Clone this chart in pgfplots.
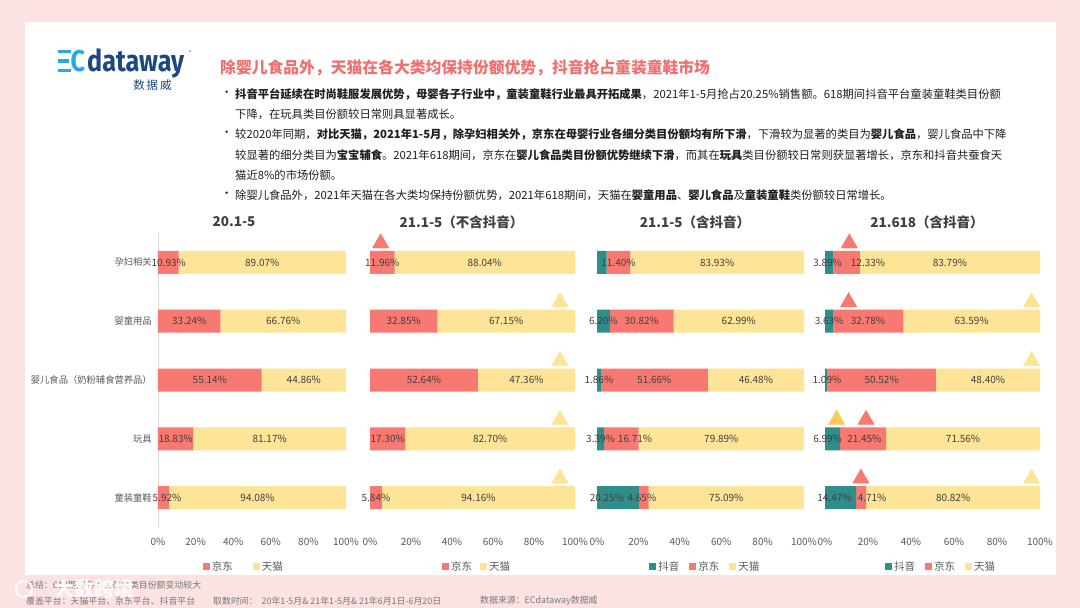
\documentclass[border=0pt]{standalone}
\usepackage{fontspec}
\setmainfont{Noto Sans CJK SC}
\newfontfamily\logofont{Fira Sans}
\usepackage{pgfplots}
\pgfplotsset{compat=1.18}

\definecolor{bgpink}{RGB}{253,226,227}
\definecolor{jd}{RGB}{248,121,114}
\definecolor{tm}{RGB}{254,228,150}
\definecolor{tmdark}{RGB}{250,200,92}
\definecolor{dy}{RGB}{47,142,137}
\definecolor{titlered}{RGB}{240,112,112}
\definecolor{txt}{RGB}{30,30,30}
\definecolor{lab}{RGB}{64,64,64}
\definecolor{gr}{RGB}{89,89,89}
\definecolor{foot}{RGB}{120,120,120}
\definecolor{ltblue}{RGB}{38,170,226}
\definecolor{navy}{RGB}{28,72,130}
\newcommand{\fs}[1]{\fontsize{#1}{#1}\selectfont}

\pgfplotsset{
  panel/.style={scale only axis, width=#1, height=294pt, xmin=0, xmax=100,
    ymin=-0.5, ymax=4.5, y dir=reverse, clip=false, anchor=south west},
  barpanel/.style={xbar stacked, bar width=23pt,
    axis x line*=bottom, x axis line style={draw=none},
    xtick={0,20,40,60,80,100}, xticklabel={\pgfmathprintnumber{\tick}\%},
    major tick length=0pt,
    /pgf/number format/assume math mode=true,
    xticklabel style={anchor=center, yshift=-15pt, font=\fs{10}, text=gr},
    legend style={draw=none, fill=none, legend columns=-1, font=\fs{10.5}, text=gr, anchor=center},
    legend image code/.code={\fill[##1, draw=none] (0pt,-3.5pt) rectangle (7pt,3.5pt);},
  },
  lab/.style={draw=none, mark=none, nodes near coords={\pgfplotspointmeta\%},
    point meta=explicit symbolic, nodes near coords align={center},
    every node near coord/.append style={font=\fs{10}, text=lab, inner sep=0pt}},
  tri/.style={only marks, mark=triangle*, mark size=9.5pt, color=#1,
    mark options={draw=none, fill=#1}},
}

\begin{document}
\begin{tikzpicture}[x=1pt,y=1pt]
\path[use as bounding box] (0,0) rectangle (1080,608);
\fill[bgpink] (0,0) rectangle (1080,608);
\fill[white] (24.5,33) rectangle (1056,585.5);

% logo
\fill[ltblue] (58,536) rectangle (70.6,539.4);
\fill[ltblue] (58,545.3) rectangle (68.5,548.7);
\fill[ltblue] (58,555) rectangle (70.6,558.4);
\node[anchor=base west, inner sep=0pt, text depth=0pt, text=ltblue, font=\logofont\bfseries\fs{30}, xscale=0.84, transform shape] at (70.5,536) {C};
\node[anchor=base west, inner sep=0pt, text depth=0pt, text=navy, font=\logofont\bfseries\fs{30}, xscale=0.84, transform shape] at (87,536) {dataway};
\node[anchor=center, inner sep=0pt, text=navy, font=\fs{11.5}] at (152.5,523) {数\,据\,威};
\node[anchor=center, inner sep=0pt, text=gr, font=\fs{5}] at (190,555) {®};

% title
\node[anchor=west, inner sep=0pt, text=titlered, font=\bfseries\fs{15.8}] at (220,540) {除婴儿食品外，天猫在各大类均保持份额优势，抖音抢占童装童鞋市场};

% bullets
\begin{scope}[every node/.style={anchor=west, inner sep=0pt, text=txt, font=\fs{11.3}}]
\node at (221,514) {•};
\node at (221,474) {•};
\node at (221,413) {•};
\node at (235,514) {{\bfseries 抖音平台延续在时尚鞋服发展优势，母婴各子行业中，童装童鞋行业最具开拓成果}，2021年1-5月抢占20.25\%销售额。618期间抖音平台童装童鞋类目份额};
\node at (235,494) {下降，在玩具类目份额较日常则具显著成长。};
\node at (235,474) {较2020年同期，{\bfseries 对比天猫，2021年1-5月，除孕妇相关外，京东在母婴行业各细分类目份额均有所下滑}，下滑较为显著的类目为{\bfseries 婴儿食品}，婴儿食品中下降};
\node at (235,453) {较显著的细分类目为{\bfseries 宝宝辅食}。2021年618期间，京东在{\bfseries 婴儿食品类目份额优势继续下滑}，而其在{\bfseries 玩具}类目份额较日常则获显著增长，京东和抖音共蚕食天};
\node at (235,433) {猫近8\%的市场份额。};
\node at (235,413) {除婴儿食品外，2021年天猫在各大类均保持份额优势，2021年618期间，天猫在{\bfseries 婴童用品}、{\bfseries 婴儿食品}及{\bfseries 童装童鞋}类份额较日常增长。};
\end{scope}

% panel titles
\begin{scope}[every node/.style={anchor=center, inner sep=0pt, text=lab, font=\bfseries\fs{13.5}}]
\node at (234,386) {20.1-5};
\node at (461.5,386) {21.1-5（不含抖音）};
\node at (695,386) {21.1-5（含抖音）};
\node at (927,386) {21.618（含抖音）};
\end{scope}

% ---------- panel 1 ----------
\begin{axis}[panel=188pt, at={(158pt,81pt)}, barpanel,
  axis y line*=left, y axis line style={draw=black!15, -},
  ytick={0,1,2,3,4},
  yticklabels={孕妇相关,婴童用品,婴儿食品（奶粉辅食营养品）,玩具,童装童鞋},
  yticklabel style={anchor=east, inner sep=0pt, xshift=-6pt, font=\fs{9.3}, text=gr},
  legend style={at={(axis description cs:0.457,-0.134)}, /tikz/every even column/.append style={column sep=18pt}}]
\addplot[fill=jd, draw=none] coordinates {(10.93,0) (33.24,1) (55.14,2) (18.83,3) (5.92,4)};
\addplot[fill=tm, draw=none] coordinates {(89.07,0) (66.76,1) (44.86,2) (81.17,3) (94.08,4)};
\legend{京东,天猫}
\end{axis}
\begin{axis}[panel=188pt, at={(158pt,81pt)}, hide axis]
\addplot[lab] coordinates {(5.7,0)[10.93] (16.62,1)[33.24] (27.57,2)[55.14] (9.42,3)[18.83] (4.8,4)[5.92]};
\addplot[lab] coordinates {(55.47,0)[89.07] (66.62,1)[66.76] (77.57,2)[44.86] (59.42,3)[81.17] (52.96,4)[94.08]};
\end{axis}

% ---------- panel 2 ----------
\begin{axis}[panel=205pt, at={(370pt,81pt)}, barpanel, axis y line=none,
  legend style={at={(axis description cs:0.522,-0.134)}, /tikz/every even column/.append style={column sep=6pt}}]
\addplot[fill=jd, draw=none] coordinates {(11.96,0) (32.85,1) (52.64,2) (17.30,3) (5.84,4)};
\addplot[fill=tm, draw=none] coordinates {(88.04,0) (67.15,1) (47.36,2) (82.70,3) (94.16,4)};
\legend{京东,天猫}
\end{axis}
\begin{axis}[panel=205pt, at={(370pt,81pt)}, hide axis]
\addplot[lab] coordinates {(5.98,0)[11.96] (16.43,1)[32.85] (26.32,2)[52.64] (8.65,3)[17.30] (2.92,4)[5.84]};
\addplot[lab] coordinates {(55.98,0)[88.04] (66.43,1)[67.15] (76.32,2)[47.36] (58.65,3)[82.70] (52.92,4)[94.16]};
\addplot[tri=jd] coordinates {(5.2,-0.325)};
\addplot[tri=tm] coordinates {(92.7,0.675) (92.7,1.675) (92.7,2.675) (92.7,3.675)};
\end{axis}

% ---------- panel 3 ----------
\begin{axis}[panel=207pt, at={(597pt,81pt)}, barpanel, axis y line=none,
  legend style={at={(axis description cs:0.523,-0.134)}, /tikz/every even column/.append style={column sep=8pt}}]
\addplot[fill=dy, draw=none] coordinates {(4.67,0) (6.20,1) (1.86,2) (3.39,3) (20.25,4)};
\addplot[fill=jd, draw=none] coordinates {(11.40,0) (30.82,1) (51.66,2) (16.71,3) (4.65,4)};
\addplot[fill=tm, draw=none] coordinates {(83.93,0) (62.99,1) (46.48,2) (79.89,3) (75.09,4)};
\legend{抖音,京东,天猫}
\end{axis}
\begin{axis}[panel=207pt, at={(597pt,81pt)}, hide axis]
\addplot[lab] coordinates {(3.1,1)[6.20] (0.93,2)[1.86] (1.7,3)[3.39] (4.8,4)[20.25]};
\addplot[lab] coordinates {(10.37,0)[11.40] (21.61,1)[30.82] (27.69,2)[51.66] (18.4,3)[16.71] (21.7,4)[4.65]};
\addplot[lab] coordinates {(58.04,0)[83.93] (68.51,1)[62.99] (76.76,2)[46.48] (60.05,3)[79.89] (62.46,4)[75.09]};
\end{axis}

% ---------- panel 4 ----------
\begin{axis}[panel=215pt, at={(825pt,81pt)}, barpanel, axis y line=none,
  legend style={at={(axis description cs:0.54,-0.134)}, /tikz/every even column/.append style={column sep=8pt}}]
\addplot[fill=dy, draw=none] coordinates {(3.89,0) (3.63,1) (1.09,2) (6.99,3) (14.47,4)};
\addplot[fill=jd, draw=none] coordinates {(12.33,0) (32.78,1) (50.52,2) (21.45,3) (4.71,4)};
\addplot[fill=tm, draw=none] coordinates {(83.79,0) (63.59,1) (48.40,2) (71.56,3) (80.82,4)};
\legend{抖音,京东,天猫}
\end{axis}
\begin{axis}[panel=215pt, at={(825pt,81pt)}, hide axis]
\addplot[lab] coordinates {(1.2,0)[3.89] (1.9,1)[3.63] (0.9,2)[1.09] (1.2,3)[6.99] (4.4,4)[14.47]};
\addplot[lab] coordinates {(20.0,0)[12.33] (20.0,1)[32.78] (26.35,2)[50.52] (18.3,3)[21.45] (21.9,4)[4.71]};
\addplot[lab] coordinates {(58.11,0)[83.79] (68.21,1)[63.59] (75.81,2)[48.40] (64.22,3)[71.56] (59.59,4)[80.82]};
\addplot[tri=jd] coordinates {(11.3,-0.325) (11.0,0.675) (19.1,2.675) (16.7,3.675)};
\addplot[tri=tm] coordinates {(96.1,0.675) (96.1,1.675) (96.1,3.675)};
\addplot[tri=tmdark] coordinates {(5.4,2.675)};
\end{axis}

% footer
\begin{scope}[every node/.style={anchor=west, inner sep=0pt, text=foot, font=\fs{8.9}}]
\node at (26,23) {总结：618期间各平台母婴类目份额变动较大};
\node at (26,7) {覆盖平台：天猫平台、京东平台、抖音平台};
\node at (213,7) {取数时间：\ \ 20年1-5月\& 21年1-5月\& 21年6月1日-6月20日};
\node at (480,7) {数据来源：ECdataway数据威};
\end{scope}
\node[anchor=center, inner sep=0pt, text=white, opacity=0.9, font=\bfseries\fs{20}] at (94,19) {大数跨境};
\draw[white, line width=2.2pt, opacity=0.85] (24,19) circle (8pt);
\end{tikzpicture}
\end{document}
